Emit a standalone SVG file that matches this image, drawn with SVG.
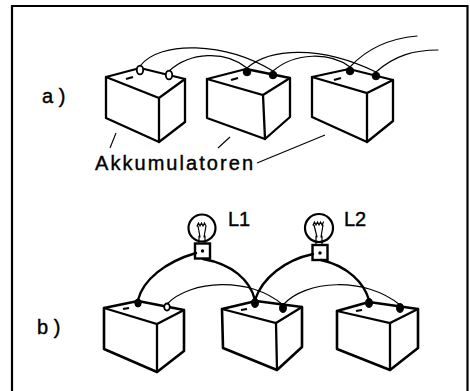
<svg xmlns="http://www.w3.org/2000/svg" width="470" height="391" viewBox="0 0 470 391">
  <style>
    .box { fill: #fff; stroke: #000; stroke-width: 2.3; stroke-linejoin: round; stroke-linecap: round; }
    .boxb { fill: #fff; stroke: #000; stroke-width: 2.6; stroke-linejoin: round; stroke-linecap: round; }
    .edge { fill: none; stroke: #000; stroke-width: 2.3; stroke-linecap: round; }
    .thin { fill: none; stroke: #000; stroke-width: 1.2; stroke-linecap: round; }
    .thick { fill: none; stroke: #000; stroke-width: 2.4; stroke-linecap: round; }
    .lead { fill: none; stroke: #000; stroke-width: 1.1; }
    .post { fill: #000; stroke: #000; stroke-width: 1; }
    .ring { fill: #fff; stroke: #000; stroke-width: 1.8; }
    .mark { fill: none; stroke: #000; stroke-width: 2.2; stroke-linecap: butt; }
    .lbl { font-family: "Liberation Sans", Arial, sans-serif; font-size: 20px; fill: #000; stroke: #000; stroke-width: 0.4; }
  </style>

  <!-- frame -->
  <path d="M12,391 V6 H467.5 V391" fill="none" stroke="#000" stroke-width="2.2"/>

  <!-- row a: batteries -->
  <g id="battery-a1">
    <path class="box" d="M106,77 L140,68 L185,79 L185,122 L159,142 L106,118 Z"/>
    <path class="edge" d="M106,77 L159,98 L185,79 M159,98 L159,142"/>
    <path class="mark" d="M126,79 L133,77"/>
    <ellipse class="ring" cx="140" cy="70" rx="3.2" ry="4.4"/>
    <ellipse class="ring" cx="169" cy="75" rx="3.2" ry="4.4"/>
  </g>
  <g id="battery-a2">
    <path class="box" d="M207,79 L246,69 L290,78 L290,117 L265,139 L207,118 Z"/>
    <path class="edge" d="M207,79 L263,95 L290,78 M263,95 L265,139"/>
    <path class="mark" d="M231,80 L238,78"/>
    <circle class="post" cx="247" cy="72" r="3.8"/>
    <circle class="post" cx="273" cy="75" r="3.8"/>
  </g>
  <g id="battery-a3">
    <path class="box" d="M312,77 L349,69 L393,80 L393,121 L367,142 L312,117 Z"/>
    <path class="edge" d="M312,77 L367,93 L393,80 M367,93 L367,142"/>
    <path class="mark" d="M334,80 L341,78"/>
    <circle class="post" cx="350" cy="71" r="3.8"/>
    <circle class="post" cx="376" cy="76" r="3.8"/>
  </g>

  <!-- row b: batteries -->
  <g id="battery-b1">
    <path class="boxb" d="M104,308 L138,301 L184,310 L184,351 L157,372 L104,349 Z"/>
    <path class="edge" d="M104,308 L157,324 L184,310 M157,324 L157,372"/>
    <path class="mark" d="M123,309 L129,308"/>
    <ellipse class="post" cx="138" cy="303" rx="3.2" ry="4"/>
    <ellipse class="ring" cx="167" cy="307" rx="2.8" ry="3.6"/>
  </g>
  <g id="battery-b2">
    <path class="boxb" d="M222,309 L256,301 L302,307 L302,347 L277,370 L223,348 Z"/>
    <path class="edge" d="M222,309 L276,323 L302,307 M276,323 L277,370"/>
    <path class="mark" d="M241,310 L247,309"/>
    <ellipse class="post" cx="255" cy="303" rx="3.4" ry="4.4"/>
    <ellipse class="post" cx="283" cy="308" rx="3.4" ry="4.4"/>
  </g>
  <g id="battery-b3">
    <path class="boxb" d="M337,311 L369,302 L418,309 L418,348 L390,370 L337,349 Z"/>
    <path class="edge" d="M337,311 L390,323 L418,309 M390,323 L390,370"/>
    <path class="mark" d="M356,311 L362,310"/>
    <ellipse class="post" cx="369" cy="303" rx="3.4" ry="4.4"/>
    <ellipse class="post" cx="400" cy="308" rx="3.4" ry="4.4"/>
  </g>

  <!-- lamps -->
  <g id="lamp-L1">
    <circle cx="202" cy="228" r="13.5" fill="#fff" stroke="#000" stroke-width="2.2"/>
    <path class="thin" d="M197,226 L198.5,223 L200,226 L201.5,223 L203,226 L204.5,223 L206,226 M198,226 L200,237 M206,226 L204,237 M199,236 L199,243 M205,236 L205,243"/>
    <rect x="195" y="243.5" width="15" height="15" fill="#fff" stroke="#000" stroke-width="2.4"/>
    <circle cx="202.5" cy="251" r="1.7" fill="#000"/>
  </g>
  <g id="lamp-L2">
    <circle cx="319" cy="228" r="14" fill="#fff" stroke="#000" stroke-width="2.2"/>
    <path class="thin" d="M313,225 L314.5,222 L316,225 L317.5,222 L319,225 L320.5,222 L322,225 L323.5,222 M314,225 L317,237 M323,225 L321,237 M316,236 L316,245 M322,236 L322,245"/>
    <rect x="312.5" y="245" width="15" height="15" fill="#fff" stroke="#000" stroke-width="2.4"/>
    <circle cx="320" cy="253" r="1.7" fill="#000"/>
  </g>

  <!-- connectors -->
  <g id="connectors">
    <!-- row a -->
    <path class="thin" d="M140,66 C160,40 225,42 273,71"/>
    <path class="thin" d="M169,71 C190,52 225,50 247,68"/>
    <path class="thin" d="M247,68 C270,48 320,45 376,72"/>
    <path class="thin" d="M273,71 C295,52 330,52 350,67"/>
    <path class="thin" d="M350,67 C370,45 395,38 417,36"/>
    <path class="thin" d="M376,72 C395,55 415,50 438,50"/>
    <!-- row b, thin links -->
    <path class="thin" d="M167,304 C190,280 250,276 283,305"/>
    <path class="thin" d="M283,305 C305,280 365,276 400,305"/>
    <!-- row b, lamp wires -->
    <path class="thick" d="M196,253 C165,262 143,280 138,300"/>
    <path class="thick" d="M203,259 C232,264 250,280 255,300"/>
    <path class="thick" d="M313,254 C285,260 262,278 255,300"/>
    <path class="thick" d="M321,260 C348,266 364,283 369,300"/>
    <!-- label leaders -->
    <path class="lead" d="M110,148 L116,133"/>
    <path class="lead" d="M218,148 L230,137"/>
    <path class="lead" d="M257,163 L325,135"/>
  </g>

  <!-- labels -->
  <g id="labels">
    <text class="lbl" x="42" y="103">a )</text>
    <text class="lbl" x="95" y="170" textLength="158" lengthAdjust="spacing">Akkumulatoren</text>
    <text class="lbl" x="37" y="334">b )</text>
    <text class="lbl" x="228" y="226">L1</text>
    <text class="lbl" x="344" y="226">L2</text>
  </g>
</svg>
